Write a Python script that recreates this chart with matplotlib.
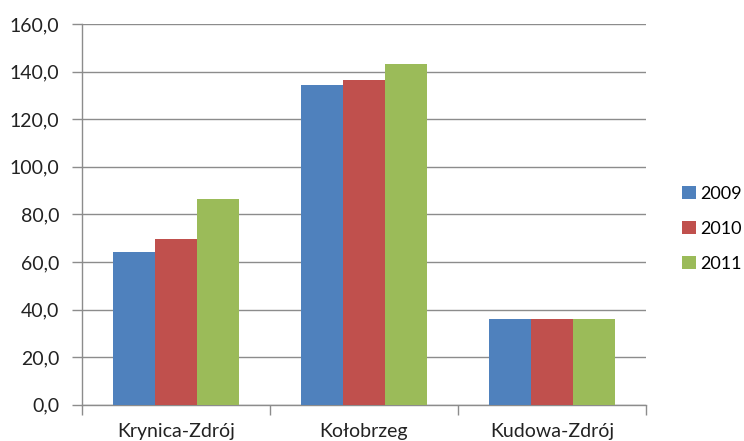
import matplotlib
matplotlib.use("Agg")
import matplotlib.pyplot as plt
import numpy as np

categories = ["Krynica-Zdrój", "Kołobrzeg", "Kudowa-Zdrój"]
series_names = ["2009", "2010", "2011"]
values_2009 = [64.3, 134.3, 36.0]
values_2010 = [69.5, 136.4, 36.0]
values_2011 = [86.4, 143.0, 36.0]
y_ticks = [0, 20, 40, 60, 80, 100, 120, 140, 160]
colors = ["#4F81BD", "#C0504D", "#9BBB59"]

plt.rcParams['font.family'] = ['Lato', 'DejaVu Sans']

fig = plt.figure(figsize=(7.44, 4.41), dpi=100)
ax = fig.add_axes([81.7/744, 1-404.7/441, (646-81.7)/744, (404.7-24)/441])

x = np.arange(len(categories))
w = 0.223
series = [values_2009, values_2010, values_2011]
handles = []
for i, (vals, c, name) in enumerate(zip(series, colors, series_names)):
    b = ax.bar(x + (i-1)*w, vals, width=w, color=c, label=name, zorder=3)
    handles.append(b)

ax.set_xlim(-0.5, len(categories)-0.5)
ax.set_ylim(0, 160)
ax.set_yticks(y_ticks)
ax.set_yticklabels([f"{v:.1f}".replace(".", ",") for v in y_ticks], fontsize=14, color="#222222")
ax.yaxis.grid(True, color="#8c8c8c", linewidth=1.0, zorder=0)
ax.set_axisbelow(True)

ax.set_xticks(x)
ax.set_xticklabels(categories, fontsize=14, color="#222222")
ax.tick_params(axis='x', length=0, pad=13)
ax.set_xticks(np.arange(-0.5, len(categories), 1.0), minor=True)
ax.tick_params(axis='x', which='minor', length=7, color="#8c8c8c", width=1)
ax.tick_params(axis='y', length=7, color="#8c8c8c", width=1, pad=9)

for s in ["top", "right"]:
    ax.spines[s].set_visible(False)
for s in ["left", "bottom"]:
    ax.spines[s].set_color("#8c8c8c")
    ax.spines[s].set_linewidth(1.0)

fig.legend(handles=handles, labels=series_names, loc="center left",
           bbox_to_anchor=(675/744, 1-229/441), frameon=False, fontsize=13,
           handlelength=0.75, handleheight=0.75, handletextpad=0.25,
           labelspacing=1.05, borderaxespad=0)

fig.savefig("out.png", dpi=100)
